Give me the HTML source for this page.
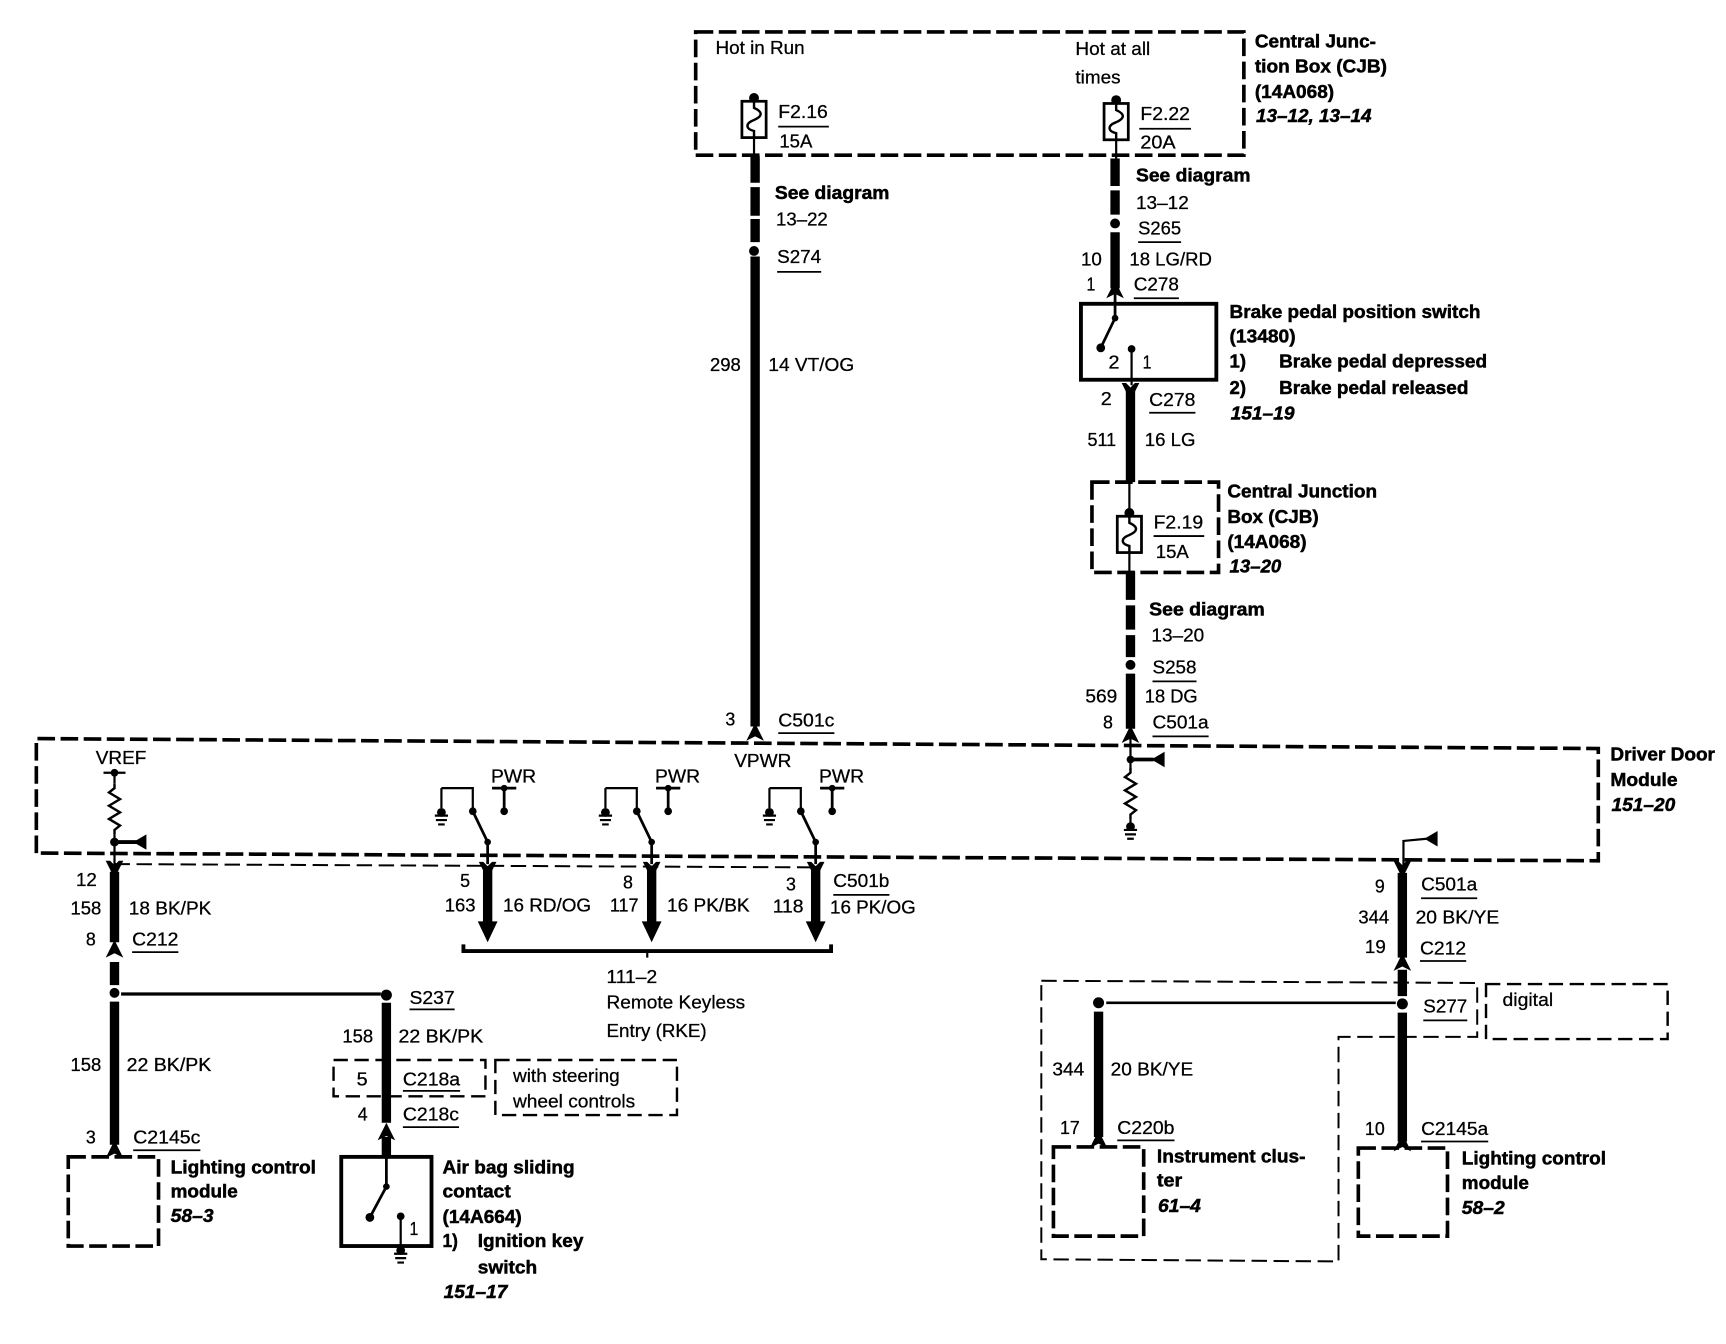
<!DOCTYPE html>
<html><head><meta charset="utf-8"><style>
html,body{margin:0;padding:0;background:#fff}
svg{display:block}
text{font-family:"Liberation Sans",sans-serif;font-size:17px;fill:#000;stroke:#000;stroke-width:.25}
.b{font-weight:bold;stroke-width:.45}
.i{font-weight:bold;font-style:italic;stroke-width:.45}
.u{stroke:#000;stroke-width:1.6;fill:none}
.w{stroke:#000;stroke-width:8.500;fill:none}
.t{stroke:#000;stroke-width:2;fill:none}
.d1{stroke:#000;stroke-width:3.300;fill:none;stroke-dasharray:16 5}
.d2{stroke:#000;stroke-width:2.200;fill:none;stroke-dasharray:13 6}
.d3{stroke:#000;stroke-width:1.800;fill:none;stroke-dasharray:14 6}
.s{stroke:#000;stroke-width:3.5;fill:none}
</style></head><body>
<svg xmlns="http://www.w3.org/2000/svg" width="1726" height="1344" viewBox="0 0 1568 1221">
<defs>
<path id="au" d="M-8,9 L0,-7 L8,9 L0,5 Z"/>
<path id="ad" d="M-8,-8 L-4,-8 L0,-4 L4,-8 L8,-8 L0,8 Z"/>
<path id="tri" d="M0,0 L12,-7 L12,7 Z"/>
<g id="fuse"><circle cx="0" cy="-3" r="4.500"/><rect x="-11" y="0" width="22" height="33" fill="#fff" stroke="#000" stroke-width="2.500"/><path d="M0,-3 V6 C9,10 7,14 0,17 C-8,20 -8,25 0,27 V33" fill="none" stroke="#000" stroke-width="2.200"/></g>
<g id="gnd"><circle cx="0" cy="0" r="4"/><path d="M-6,3 H6 M-5,7 H5 M-3,11 H3" stroke="#000" stroke-width="2" fill="none"/></g>
<path id="res" d="M0,0 V4 L-5,8 L5,14 L-5,20 L5,26 L-5,32 L5,38 L0,42 V46" fill="none" stroke="#000" stroke-width="2.200"/>
<g id="pw">
<path d="M0,-49 V-31 M0,-49 H28.500 V-30" fill="none" stroke="#000" stroke-width="2"/>
<use href="#gnd" x="0" y="-27"/>
<circle cx="28.500" cy="-28" r="3.500"/>
<path d="M28.500,-28 L42,0 V20" fill="none" stroke="#000" stroke-width="2.500"/>
<circle cx="42" cy="0" r="3"/>
<path d="M46,-49 H68 M57,-49 V-28" fill="none" stroke="#000" stroke-width="2.500"/>
<circle cx="57" cy="-49" r="3"/><circle cx="57" cy="-28" r="3.500"/>
<path d="M42,22 V78" stroke="#000" stroke-width="8.500" fill="none"/>
<use href="#ad" x="42" y="26"/>
<path d="M33,72 H51 L42,91 Z"/>
</g>
</defs>

<!-- top CJB -->
<rect x="632" y="29" width="498" height="112" class="d1"/>
<use href="#fuse" x="685" y="92"/>
<use href="#fuse" x="1014" y="94"/>
<path d="M685,125 V142 M1014,127 V144" class="t"/>
<path d="M686,142 V166 M686,170 V196 M686,199 V220 M686,233 V660" class="w"/>
<circle cx="685" cy="228" r="4.500"/>
<use href="#au" x="686" y="664"/>
<path d="M1013,144 V169 M1013,173 V195 M1013,211 V262" class="w"/>
<circle cx="1013" cy="203" r="4.500"/>
<use href="#au" x="1013" y="262"/>

<!-- brake switch -->
<rect x="982" y="276" width="123" height="69" class="s"/>
<path d="M1013,262 V289 L1000,316" fill="none" stroke="#000" stroke-width="2.500"/>
<circle cx="1013" cy="289" r="3"/><circle cx="1000" cy="316" r="4"/>
<circle cx="1028" cy="317" r="3.500"/>
<path d="M1028,317 V350" class="t"/>
<path d="M1027,352 V438" class="w"/>
<use href="#ad" x="1027" y="356"/>

<!-- CJB 2 -->
<rect x="992" y="438" width="115" height="82" class="d1"/>
<path d="M1026,438 V466" class="t"/>
<use href="#fuse" x="1026" y="469"/>
<path d="M1026,502 V520" class="t"/>
<path d="M1027,519 V545 M1027,550 V572 M1027,577 V597 M1027,612 V662" class="w"/>
<circle cx="1027" cy="604" r="4.500"/>
<use href="#au" x="1027" y="666"/>

<!-- driver door module -->
<path d="M33,775 V671 L1452,680 V782 L33,775" class="d1"/>
<path d="M104,785 L740,788" class="d3"/>

<!-- VREF -->
<path d="M94,702 H114" class="t"/><circle cx="104" cy="702" r="3.500"/>
<path d="M104,702 V712" class="t"/>
<use href="#res" x="104" y="712"/>
<path d="M104,758 V790" class="t"/>
<circle cx="104" cy="765" r="4"/>
<path d="M104,765 H124" class="s"/>
<use href="#tri" x="121" y="765"/>
<path d="M104,792 V856" class="w"/>
<use href="#ad" x="104" y="790"/>
<use href="#au" x="104" y="861"/>
<path d="M104,874 V895 M104,910 V1040" class="w"/>
<circle cx="104" cy="902" r="4.500"/>
<use href="#au" x="104" y="1043"/>
<path d="M110,903 H346" stroke="#000" stroke-width="3" fill="none"/>
<circle cx="351" cy="904" r="5"/>
<path d="M351,911 V1020 M351,1033 V1052" class="w"/>
<use href="#au" x="351" y="1027"/>

<!-- PWR groups -->
<use href="#pw" x="401" y="765"/>
<use href="#pw" x="550" y="765"/>
<use href="#pw" x="699" y="765"/>

<!-- brace -->
<path d="M421,858 V864 H755 V858" class="s"/><path d="M588,864 V870" class="t"/>

<!-- center module -->
<path d="M1027,670 V700" class="t"/>
<circle cx="1027" cy="690" r="3.500"/>
<path d="M1027,690 H1048" class="s"/>
<use href="#tri" x="1046" y="690"/>
<use href="#res" x="1027" y="698"/>
<path d="M1027,744 V750" class="t"/>
<use href="#gnd" x="1027" y="751"/>

<!-- right wire -->
<path d="M1275,790 V764 L1296,762" class="t"/>
<use href="#tri" x="1294" y="762"/>
<path d="M1274,793 V870 M1274,881 V905 M1274,920 V1037" class="w"/>
<use href="#ad" x="1274" y="790"/>
<use href="#au" x="1274" y="873"/>
<circle cx="1274" cy="912" r="5"/>
<use href="#au" x="1274" y="1037"/>
<path d="M1005,911 H1268" stroke="#000" stroke-width="2.400" fill="none"/>
<circle cx="998" cy="911" r="5"/>
<path d="M998,919 V1033" class="w"/>
<use href="#au" x="998" y="1034"/>

<!-- boxes lower -->
<rect x="62" y="1051" width="82" height="81" class="d1"/>
<rect x="957" y="1042" width="82" height="81" class="d1"/>
<rect x="1234" y="1043" width="81" height="80" class="d1"/>
<rect x="310" y="1051" width="82" height="81" class="s"/>
<path d="M351,1051 V1078 L336,1106" fill="none" stroke="#000" stroke-width="2.500"/>
<circle cx="351" cy="1078" r="3"/><circle cx="336" cy="1106" r="4"/>
<circle cx="364" cy="1105" r="3.500"/>
<path d="M364,1105 V1136" class="t"/>
<use href="#gnd" x="364" y="1136"/>
<rect x="303" y="963" width="138" height="33" class="d2"/>
<rect x="450" y="963" width="165" height="50" class="d2"/>
<path d="M946,891 L1342,893 V942 H1216 V1146 L946,1144 Z" class="d3"/>
<rect x="1350" y="894" width="165" height="50" class="d2"/>

<!-- text -->
<text x="650" y="49" textLength="81" lengthAdjust="spacingAndGlyphs">Hot in Run</text>
<text x="977" y="50" textLength="68" lengthAdjust="spacingAndGlyphs">Hot at all</text>
<text x="977" y="76" textLength="41" lengthAdjust="spacingAndGlyphs">times</text>
<text x="707" y="107" textLength="45" lengthAdjust="spacingAndGlyphs">F2.16</text><line x1="707" y1="115" x2="753" y2="115" class="u"/>
<text x="708" y="134" textLength="30" lengthAdjust="spacingAndGlyphs">15A</text>
<text x="1036" y="109" textLength="45" lengthAdjust="spacingAndGlyphs">F2.22</text><line x1="1035" y1="117" x2="1082" y2="117" class="u"/>
<text x="1036" y="135" textLength="32" lengthAdjust="spacingAndGlyphs">20A</text>
<text class="b" x="1140" y="43" textLength="110" lengthAdjust="spacingAndGlyphs">Central Junc-</text>
<text class="b" x="1140" y="66" textLength="120" lengthAdjust="spacingAndGlyphs">tion Box (CJB)</text>
<text class="b" x="1140" y="89" textLength="72" lengthAdjust="spacingAndGlyphs">(14A068)</text>
<text class="i" x="1141" y="111" textLength="105" lengthAdjust="spacingAndGlyphs">13–12, 13–14</text>

<text class="b" x="704" y="181" textLength="104" lengthAdjust="spacingAndGlyphs">See diagram</text>
<text x="705" y="205" textLength="47" lengthAdjust="spacingAndGlyphs">13–22</text>
<text x="706" y="239" textLength="40" lengthAdjust="spacingAndGlyphs">S274</text><line x1="706" y1="247" x2="746" y2="247" class="u"/>
<text x="645" y="337" textLength="28" lengthAdjust="spacingAndGlyphs">298</text>
<text x="698" y="337" textLength="78" lengthAdjust="spacingAndGlyphs">14 VT/OG</text>
<text class="b" x="1032" y="165" textLength="104" lengthAdjust="spacingAndGlyphs">See diagram</text>
<text x="1032" y="190" textLength="48" lengthAdjust="spacingAndGlyphs">13–12</text>
<text x="1034" y="213" textLength="39" lengthAdjust="spacingAndGlyphs">S265</text><line x1="1034" y1="220" x2="1073" y2="220" class="u"/>
<text x="982" y="241" textLength="19" lengthAdjust="spacingAndGlyphs">10</text>
<text x="1026" y="241" textLength="75" lengthAdjust="spacingAndGlyphs">18 LG/RD</text>
<text x="987" y="264" textLength="8" lengthAdjust="spacingAndGlyphs">1</text>
<text x="1030" y="264" textLength="41" lengthAdjust="spacingAndGlyphs">C278</text><line x1="1030" y1="271" x2="1071" y2="271" class="u"/>

<text x="1007" y="335" textLength="10" lengthAdjust="spacingAndGlyphs">2</text>
<text x="1038" y="335" textLength="8" lengthAdjust="spacingAndGlyphs">1</text>
<text class="b" x="1117" y="289" textLength="228" lengthAdjust="spacingAndGlyphs">Brake pedal position switch</text>
<text class="b" x="1117" y="311" textLength="60" lengthAdjust="spacingAndGlyphs">(13480)</text>
<text class="b" x="1117" y="334" textLength="15" lengthAdjust="spacingAndGlyphs">1)</text>
<text class="b" x="1162" y="334" textLength="189" lengthAdjust="spacingAndGlyphs">Brake pedal depressed</text>
<text class="b" x="1117" y="358" textLength="15" lengthAdjust="spacingAndGlyphs">2)</text>
<text class="b" x="1162" y="358" textLength="172" lengthAdjust="spacingAndGlyphs">Brake pedal released</text>
<text class="i" x="1118" y="381" textLength="58" lengthAdjust="spacingAndGlyphs">151–19</text>
<text x="1000" y="368" textLength="10" lengthAdjust="spacingAndGlyphs">2</text>
<text x="1044" y="369" textLength="42" lengthAdjust="spacingAndGlyphs">C278</text><line x1="1044" y1="375" x2="1086" y2="375" class="u"/>
<text x="988" y="405" textLength="26" lengthAdjust="spacingAndGlyphs">511</text>
<text x="1040" y="405" textLength="46" lengthAdjust="spacingAndGlyphs">16 LG</text>

<text x="1048" y="480" textLength="45" lengthAdjust="spacingAndGlyphs">F2.19</text><line x1="1048" y1="487" x2="1094" y2="487" class="u"/>
<text x="1050" y="507" textLength="30" lengthAdjust="spacingAndGlyphs">15A</text>
<text class="b" x="1115" y="452" textLength="136" lengthAdjust="spacingAndGlyphs">Central Junction</text>
<text class="b" x="1115" y="475" textLength="83" lengthAdjust="spacingAndGlyphs">Box (CJB)</text>
<text class="b" x="1115" y="498" textLength="72" lengthAdjust="spacingAndGlyphs">(14A068)</text>
<text class="i" x="1117" y="520" textLength="47" lengthAdjust="spacingAndGlyphs">13–20</text>
<text class="b" x="1044" y="559" textLength="105" lengthAdjust="spacingAndGlyphs">See diagram</text>
<text x="1046" y="583" textLength="48" lengthAdjust="spacingAndGlyphs">13–20</text>
<text x="1047" y="612" textLength="40" lengthAdjust="spacingAndGlyphs">S258</text><line x1="1047" y1="619" x2="1087" y2="619" class="u"/>
<text x="986" y="638" textLength="29" lengthAdjust="spacingAndGlyphs">569</text>
<text x="1040" y="638" textLength="48" lengthAdjust="spacingAndGlyphs">18 DG</text>
<text x="1002" y="662" textLength="9" lengthAdjust="spacingAndGlyphs">8</text>
<text x="1047" y="662" textLength="51" lengthAdjust="spacingAndGlyphs">C501a</text><line x1="1047" y1="669" x2="1098" y2="669" class="u"/>
<text x="659" y="659" textLength="9" lengthAdjust="spacingAndGlyphs">3</text>
<text x="707" y="660" textLength="51" lengthAdjust="spacingAndGlyphs">C501c</text><line x1="707" y1="666" x2="758" y2="666" class="u"/>
<text x="667" y="697" textLength="52" lengthAdjust="spacingAndGlyphs">VPWR</text>
<text x="87" y="694" textLength="46" lengthAdjust="spacingAndGlyphs">VREF</text>
<text x="446" y="711" textLength="41" lengthAdjust="spacingAndGlyphs">PWR</text>
<text x="595" y="711" textLength="41" lengthAdjust="spacingAndGlyphs">PWR</text>
<text x="744" y="711" textLength="41" lengthAdjust="spacingAndGlyphs">PWR</text>
<text class="b" x="1463" y="691" textLength="95" lengthAdjust="spacingAndGlyphs">Driver Door</text>
<text class="b" x="1463" y="714" textLength="61" lengthAdjust="spacingAndGlyphs">Module</text>
<text class="i" x="1464" y="737" textLength="58" lengthAdjust="spacingAndGlyphs">151–20</text>

<text x="69" y="805" textLength="19" lengthAdjust="spacingAndGlyphs">12</text>
<text x="64" y="831" textLength="28" lengthAdjust="spacingAndGlyphs">158</text>
<text x="117" y="831" textLength="75" lengthAdjust="spacingAndGlyphs">18 BK/PK</text>
<text x="78" y="859" textLength="9" lengthAdjust="spacingAndGlyphs">8</text>
<text x="120" y="859" textLength="42" lengthAdjust="spacingAndGlyphs">C212</text><line x1="120" y1="865" x2="162" y2="865" class="u"/>
<text x="418" y="806" textLength="9" lengthAdjust="spacingAndGlyphs">5</text>
<text x="404" y="828" textLength="28" lengthAdjust="spacingAndGlyphs">163</text>
<text x="457" y="828" textLength="80" lengthAdjust="spacingAndGlyphs">16 RD/OG</text>
<text x="566" y="807" textLength="9" lengthAdjust="spacingAndGlyphs">8</text>
<text x="554" y="828" textLength="26" lengthAdjust="spacingAndGlyphs">117</text>
<text x="606" y="828" textLength="75" lengthAdjust="spacingAndGlyphs">16 PK/BK</text>
<text x="714" y="809" textLength="9" lengthAdjust="spacingAndGlyphs">3</text>
<text x="702" y="829" textLength="28" lengthAdjust="spacingAndGlyphs">118</text>
<text x="757" y="806" textLength="51" lengthAdjust="spacingAndGlyphs">C501b</text><line x1="757" y1="813" x2="808" y2="813" class="u"/>
<text x="754" y="830" textLength="78" lengthAdjust="spacingAndGlyphs">16 PK/OG</text>
<text x="551" y="893" textLength="46" lengthAdjust="spacingAndGlyphs">111–2</text>
<text x="551" y="916" textLength="126" lengthAdjust="spacingAndGlyphs">Remote Keyless</text>
<text x="551" y="942" textLength="91" lengthAdjust="spacingAndGlyphs">Entry (RKE)</text>

<text x="372" y="912" textLength="41" lengthAdjust="spacingAndGlyphs">S237</text><line x1="372" y1="917" x2="413" y2="917" class="u"/>
<text x="311" y="947" textLength="28" lengthAdjust="spacingAndGlyphs">158</text>
<text x="362" y="947" textLength="77" lengthAdjust="spacingAndGlyphs">22 BK/PK</text>
<text x="324" y="986" textLength="10" lengthAdjust="spacingAndGlyphs">5</text>
<text x="366" y="986" textLength="52" lengthAdjust="spacingAndGlyphs">C218a</text><line x1="366" y1="991" x2="418" y2="991" class="u"/>
<text x="325" y="1018" textLength="9" lengthAdjust="spacingAndGlyphs">4</text>
<text x="366" y="1018" textLength="51" lengthAdjust="spacingAndGlyphs">C218c</text><line x1="366" y1="1024" x2="417" y2="1024" class="u"/>
<text x="466" y="983" textLength="97" lengthAdjust="spacingAndGlyphs">with steering</text>
<text x="466" y="1006" textLength="111" lengthAdjust="spacingAndGlyphs">wheel controls</text>
<text x="64" y="973" textLength="28" lengthAdjust="spacingAndGlyphs">158</text>
<text x="115" y="973" textLength="77" lengthAdjust="spacingAndGlyphs">22 BK/PK</text>
<text x="78" y="1039" textLength="9" lengthAdjust="spacingAndGlyphs">3</text>
<text x="121" y="1039" textLength="61" lengthAdjust="spacingAndGlyphs">C2145c</text><line x1="121" y1="1045" x2="182" y2="1045" class="u"/>
<text class="b" x="155" y="1066" textLength="132" lengthAdjust="spacingAndGlyphs">Lighting control</text>
<text class="b" x="155" y="1088" textLength="61" lengthAdjust="spacingAndGlyphs">module</text>
<text class="i" x="155" y="1110" textLength="39" lengthAdjust="spacingAndGlyphs">58–3</text>
<text x="372" y="1122" textLength="8" lengthAdjust="spacingAndGlyphs">1</text>
<text class="b" x="402" y="1066" textLength="120" lengthAdjust="spacingAndGlyphs">Air bag sliding</text>
<text class="b" x="402" y="1088" textLength="62" lengthAdjust="spacingAndGlyphs">contact</text>
<text class="b" x="402" y="1111" textLength="72" lengthAdjust="spacingAndGlyphs">(14A664)</text>
<text class="b" x="402" y="1133" textLength="14" lengthAdjust="spacingAndGlyphs">1)</text>
<text class="b" x="434" y="1133" textLength="96" lengthAdjust="spacingAndGlyphs">Ignition key</text>
<text class="b" x="434" y="1157" textLength="54" lengthAdjust="spacingAndGlyphs">switch</text>
<text class="i" x="403" y="1179" textLength="58" lengthAdjust="spacingAndGlyphs">151–17</text>

<text x="1249" y="811" textLength="9" lengthAdjust="spacingAndGlyphs">9</text>
<text x="1291" y="809" textLength="51" lengthAdjust="spacingAndGlyphs">C501a</text><line x1="1291" y1="816" x2="1342" y2="816" class="u"/>
<text x="1234" y="839" textLength="28" lengthAdjust="spacingAndGlyphs">344</text>
<text x="1286" y="839" textLength="76" lengthAdjust="spacingAndGlyphs">20 BK/YE</text>
<text x="1240" y="866" textLength="19" lengthAdjust="spacingAndGlyphs">19</text>
<text x="1290" y="867" textLength="42" lengthAdjust="spacingAndGlyphs">C212</text><line x1="1290" y1="873" x2="1332" y2="873" class="u"/>
<text x="1293" y="920" textLength="40" lengthAdjust="spacingAndGlyphs">S277</text><line x1="1293" y1="927" x2="1333" y2="927" class="u"/>
<text x="1365" y="914" textLength="46" lengthAdjust="spacingAndGlyphs">digital</text>
<text x="956" y="977" textLength="29" lengthAdjust="spacingAndGlyphs">344</text>
<text x="1009" y="977" textLength="75" lengthAdjust="spacingAndGlyphs">20 BK/YE</text>
<text x="963" y="1030" textLength="18" lengthAdjust="spacingAndGlyphs">17</text>
<text x="1015" y="1030" textLength="52" lengthAdjust="spacingAndGlyphs">C220b</text><line x1="1015" y1="1036" x2="1067" y2="1036" class="u"/>
<text x="1240" y="1031" textLength="18" lengthAdjust="spacingAndGlyphs">10</text>
<text x="1291" y="1031" textLength="61" lengthAdjust="spacingAndGlyphs">C2145a</text><line x1="1291" y1="1037" x2="1352" y2="1037" class="u"/>
<text class="b" x="1051" y="1056" textLength="135" lengthAdjust="spacingAndGlyphs">Instrument clus-</text>
<text class="b" x="1051" y="1078" textLength="23" lengthAdjust="spacingAndGlyphs">ter</text>
<text class="i" x="1052" y="1101" textLength="39" lengthAdjust="spacingAndGlyphs">61–4</text>
<text class="b" x="1328" y="1058" textLength="131" lengthAdjust="spacingAndGlyphs">Lighting control</text>
<text class="b" x="1328" y="1080" textLength="61" lengthAdjust="spacingAndGlyphs">module</text>
<text class="i" x="1328" y="1103" textLength="39" lengthAdjust="spacingAndGlyphs">58–2</text>
</svg>
</body></html>
